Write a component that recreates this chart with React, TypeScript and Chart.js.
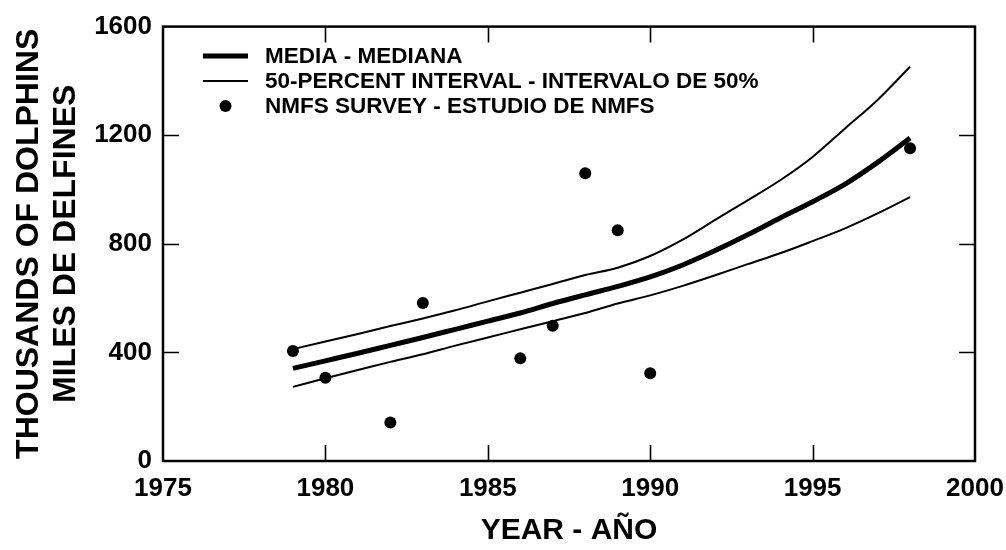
import React, { useEffect, useRef } from "react";
import { Chart, registerables } from "chart.js";

Chart.register(...registerables);

// Model curves (yearly values, thousands of dolphins)
const years = [1979, 1980, 1981, 1982, 1983, 1984, 1985, 1986, 1987, 1988, 1989, 1990, 1991, 1992, 1993, 1994, 1995, 1996, 1997, 1998];
const median = [341, 369, 397, 426, 455, 485, 515, 545, 580, 612, 643, 678, 722, 775, 833, 895, 955, 1020, 1100, 1190];
const upper = [412, 440, 468, 497, 525, 555, 588, 620, 652, 685, 712, 755, 815, 888, 960, 1034, 1120, 1225, 1330, 1452];
const lower = [273, 305, 335, 365, 393, 425, 455, 485, 515, 545, 580, 610, 645, 684, 725, 765, 810, 857, 912, 972];

// NMFS survey estimates
const surveyYears = [1979, 1980, 1982, 1983, 1986, 1987, 1988, 1989, 1990, 1998];
const surveyValues = [405, 307, 142, 582, 378, 498, 1060, 850, 323, 1152];

const xTicks = [1975, 1980, 1985, 1990, 1995, 2000];
const yTicks = [0, 400, 800, 1200, 1600];

const legendLabels = [
  "MEDIA - MEDIANA",
  "50-PERCENT INTERVAL - INTERVALO DE 50%",
  "NMFS SURVEY - ESTUDIO DE NMFS",
];

const FONT = "'Liberation Sans', Arial, Helvetica, sans-serif";

const toXY = (xs: number[], ys: number[]) => xs.map((x, i) => ({ x, y: ys[i] }));

const framePlugin = {
  id: "frameAndTicks",
  afterDraw(chart: any) {
    const { ctx, chartArea: a, scales } = chart;
    const xs = scales.x;
    const ys = scales.y;
    ctx.save();
    ctx.strokeStyle = "#000";
    ctx.lineWidth = 2.5;
    ctx.strokeRect(a.left, a.top, a.right - a.left, a.bottom - a.top);
    ctx.lineWidth = 1.6;
    const tl = 16;
    ctx.beginPath();
    xTicks.slice(1, -1).forEach((v) => {
      const px = Math.round(xs.getPixelForValue(v)) + 0.5;
      ctx.moveTo(px, a.bottom);
      ctx.lineTo(px, a.bottom - tl);
      ctx.moveTo(px, a.top);
      ctx.lineTo(px, a.top + tl);
    });
    yTicks.slice(1, -1).forEach((v) => {
      const py = Math.round(ys.getPixelForValue(v)) + 0.5;
      ctx.moveTo(a.left, py);
      ctx.lineTo(a.left + tl, py);
      ctx.moveTo(a.right, py);
      ctx.lineTo(a.right - tl, py);
    });
    ctx.stroke();

    // Legend
    const rows = [56, 81, 106];
    const sx0 = 203;
    const sx1 = 248;
    ctx.fillStyle = "#000";
    ctx.lineCap = "butt";
    ctx.lineWidth = 5;
    ctx.beginPath();
    ctx.moveTo(sx0, rows[0]);
    ctx.lineTo(sx1, rows[0]);
    ctx.stroke();
    ctx.lineWidth = 2;
    ctx.beginPath();
    ctx.moveTo(sx0, rows[1]);
    ctx.lineTo(sx1, rows[1]);
    ctx.stroke();
    ctx.beginPath();
    ctx.arc((sx0 + sx1) / 2, rows[2], 6, 0, Math.PI * 2);
    ctx.fill();
    ctx.font = `bold 22.5px ${FONT}`;
    ctx.textBaseline = "middle";
    ctx.textAlign = "left";
    legendLabels.forEach((t, i) => ctx.fillText(t, 265, rows[i] + 1));
    ctx.restore();
  },
};

export default function App() {
  const ref = useRef<HTMLCanvasElement | null>(null);

  useEffect(() => {
    if (!ref.current) return;
    const chart = new Chart(ref.current, {
      type: "scatter",
      data: {
        datasets: [
          {
            label: legendLabels[1],
            data: toXY(years, upper),
            showLine: true,
            borderColor: "#000",
            borderWidth: 2,
            pointRadius: 0,
            cubicInterpolationMode: "monotone",
          },
          {
            label: legendLabels[1] + " (low)",
            data: toXY(years, lower),
            showLine: true,
            borderColor: "#000",
            borderWidth: 2,
            pointRadius: 0,
            cubicInterpolationMode: "monotone",
          },
          {
            label: legendLabels[0],
            data: toXY(years, median),
            showLine: true,
            borderColor: "#000",
            borderWidth: 5,
            pointRadius: 0,
            cubicInterpolationMode: "monotone",
          },
          {
            label: legendLabels[2],
            data: toXY(surveyYears, surveyValues),
            showLine: false,
            backgroundColor: "#000",
            borderColor: "#000",
            borderWidth: 0,
            pointRadius: 6,
          },
        ],
      } as any,
      options: {
        animation: false,
        responsive: true,
        maintainAspectRatio: false,
        layout: { padding: { top: 22, right: 31, bottom: 0, left: 0 } },
        plugins: { legend: { display: false }, tooltip: { enabled: false } },
        scales: {
          x: {
            type: "linear",
            min: 1975,
            max: 2000,
            afterBuildTicks: (s: any) => {
              s.ticks = xTicks.map((v) => ({ value: v }));
            },
            afterFit: (s: any) => {
              s.height = 89;
              s.paddingRight = 0;
              s.paddingLeft = 0;
            },
            grid: { display: false, drawTicks: false },
            border: { display: false },
            ticks: {
              color: "#000",
              padding: 12,
              font: { family: FONT, size: 26, weight: "bold" },
              callback: (v: any) => String(v),
              maxRotation: 0,
            },
            title: {
              display: true,
              text: "YEAR - AÑO",
              color: "#000",
              font: { family: FONT, size: 30, weight: "bold" },
              padding: { top: 0, bottom: 1 },
            },
          },
          y: {
            type: "linear",
            min: 0,
            max: 1600,
            afterBuildTicks: (s: any) => {
              s.ticks = yTicks.map((v) => ({ value: v }));
            },
            afterFit: (s: any) => {
              s.width = 163;
            },
            grid: { display: false, drawTicks: false },
            border: { display: false },
            ticks: {
              color: "#000",
              padding: 11,
              font: { family: FONT, size: 26, weight: "bold" },
              callback: (v: any) => String(v),
            },
            title: {
              display: true,
              text: ["THOUSANDS OF DOLPHINS", "MILES DE DELFINES"],
              color: "#000",
              font: { family: FONT, size: 32, weight: "bold", lineHeight: 1.17 },
              padding: { top: 10, bottom: 0 },
            },
          },
        },
      } as any,
      plugins: [framePlugin],
    });
    return () => chart.destroy();
  }, []);

  return (
    <div style={{ position: "fixed", left: 0, top: 0, width: 1006, height: 550, background: "#fff" }}>
      <canvas ref={ref} />
    </div>
  );
}
